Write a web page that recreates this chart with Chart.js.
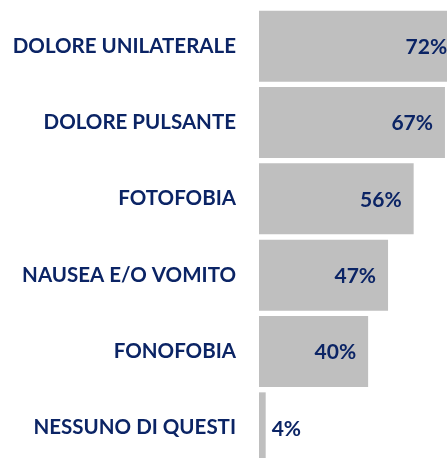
<!DOCTYPE html>
<html>
<head>
<meta charset="utf-8">
<script src="https://cdn.jsdelivr.net/npm/chart.js@4"></script>
<style>
  html, body { margin: 0; padding: 0; background: #fff; overflow: hidden; }
  #wrap { width: 470px; height: 470px; }
</style>
</head>
<body>
<div id="wrap"><canvas id="graph" width="470" height="470"></canvas></div>
<script>
const categories = [
  'DOLORE UNILATERALE',
  'DOLORE PULSANTE',
  'FOTOFOBIA',
  'NAUSEA E/O VOMITO',
  'FONOFOBIA',
  'NESSUNO DI QUESTI'
];
const percentages = [72, 67, 56, 47, 40, 4];
const valueLabels = ['72%', '67%', '56%', '47%', '40%', '4%'];

const navy = '#0b2465';
const labelFont = 'bold 21px Lato';

// draws the percentage next to the end of each bar
const valueLabelPlugin = {
  id: 'valueLabels',
  afterDatasetsDraw(chart) {
    const ctx = chart.ctx;
    const meta = chart.getDatasetMeta(0);
    ctx.save();
    ctx.font = labelFont;
    ctx.fillStyle = navy;
    ctx.textBaseline = 'middle';
    meta.data.forEach((bar, i) => {
      const width = bar.x - bar.base;
      if (width > 50) {
        ctx.textAlign = 'right';
        ctx.fillText(valueLabels[i], bar.x - 12, bar.y + 1);
      } else {
        ctx.textAlign = 'left';
        ctx.fillText(valueLabels[i], bar.x + 6, bar.y + 1);
      }
    });
    ctx.restore();
  }
};

const config = {
  type: 'bar',
  data: {
    labels: categories,
    datasets: [
      {
        data: percentages,
        backgroundColor: '#bfbfbf',
        borderWidth: 0,
        barPercentage: 0.93,
        categoryPercentage: 1
      }
    ]
  },
  options: {
    indexAxis: 'y',
    responsive: false,
    animation: false,
    layout: { padding: { top: 8, bottom: 4, left: 0, right: 0 } },
    plugins: {
      legend: { display: false },
      tooltip: { enabled: false }
    },
    scales: {
      x: {
        display: false,
        min: 1.65,
        max: 75.8
      },
      y: {
        grid: { display: false, drawTicks: false },
        border: { display: false },
        ticks: {
          color: navy,
          font: { family: 'Lato', size: 20.5, weight: 'bold' },
          padding: 23
        },
        afterFit(scale) {
          scale.width = 259;
          // tick padding should not shrink the chart area vertically
          scale.paddingTop = 0;
          scale.paddingBottom = 0;
        }
      }
    }
  },
  plugins: [valueLabelPlugin]
};

new Chart(document.getElementById('graph').getContext('2d'), config);
</script>
</body>
</html>
